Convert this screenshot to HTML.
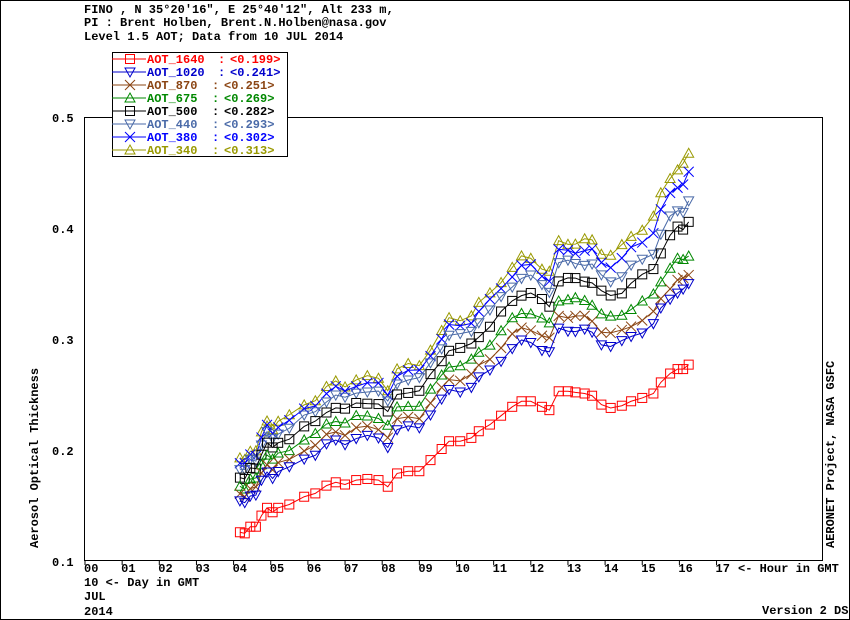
<!DOCTYPE html>
<html><head><meta charset="utf-8"><style>
body{margin:0;background:#fff}
svg{display:block}
text{font-family:"Liberation Mono",monospace;font-weight:bold;font-size:12px}
</style></head><body>
<svg id="s" width="850" height="620" xmlns="http://www.w3.org/2000/svg">
<rect x="0.5" y="0.5" width="849" height="619" fill="#fff" stroke="#000"/>
<text x="84" y="13">FINO , N 35°20'16", E 25°40'12", Alt 233 m,</text>
<text x="84" y="26">PI : Brent Holben, Brent.N.Holben@nasa.gov</text>
<text x="84" y="40">Level 1.5 AOT; Data from 10 JUL 2014</text>
<rect x="84.5" y="117.5" width="738" height="443" fill="none" stroke="#000"/>
<text x="52" y="122">0.5</text>
<text x="52" y="233">0.4</text>
<text x="52" y="344">0.3</text>
<text x="52" y="455">0.2</text>
<text x="52" y="566">0.1</text>
<text x="84" y="586">10  &lt;- Day in GMT</text>
<text x="84" y="600">JUL</text>
<text x="84" y="615">2014</text>
<text x="738" y="572">&lt;- Hour in GMT</text>
<text x="762" y="614">Version 2 DS</text>
<text transform="translate(38,548) rotate(-90)">Aerosol Optical Thickness</text>
<text transform="translate(834,548) rotate(-90)">AERONET Project, NASA GSFC</text>
<g id="ticks"></g>
<g id="data"></g>
<g id="leg"></g>
</svg>
<script>
var NS="http://www.w3.org/2000/svg",s=document.getElementById('s');
function X(h){return 85+37.15*h}function Y(v){return 560-(v-0.1)*1110}
function el(p,t,a){var e=document.createElementNS(NS,t);for(var k in a)e.setAttribute(k,a[k]);p.appendChild(e);return e}
var tk=document.getElementById('ticks');
for(var h=0;h<=17;h++){var x=X(h);el(tk,'line',{x1:x,y1:560,x2:x,y2:565,stroke:'#000'});
var t=el(tk,'text',{x:x-1,y:572});t.textContent=(h<10?'0':'')+h;}
var red=[[4.17,.125],[4.3,.124],[4.45,.13],[4.6,.13],[4.75,.14],[4.9,.147],[5.05,.143],[5.2,.147],[5.5,.15],[5.9,.157],[6.2,.16],[6.5,.167],[6.75,.17],[7,.168],[7.3,.172],[7.6,.173],[7.9,.172],[8.15,.166],[8.4,.178],[8.7,.18],[9,.18],[9.3,.19],[9.6,.2],[9.8,.207],[10.1,.207],[10.4,.21],[10.6,.216],[10.9,.222],[11.2,.23],[11.5,.238],[11.75,.243],[12,.243],[12.3,.238],[12.5,.235],[12.75,.252],[13,.252],[13.2,.251],[13.45,.25],[13.65,.248],[13.9,.24],[14.15,.237],[14.45,.239],[14.7,.243],[15,.246],[15.3,.25],[15.5,.26],[15.75,.268],[15.95,.272],[16.1,.272],[16.25,.276]];
var S=[['AOT_1640','#ff0000','sq',1,0,'0.199'],['AOT_1020','#0000cc','dn',1.22,0.0125,'0.241'],['AOT_870','#8b4513','x',1.27,0.008,'0.251'],['AOT_675','#008800','up',1.33,0.01,'0.269'],['AOT_500','#000000','sq',1.4,0.022,'0.282'],['AOT_440','#4a6aa8','dn',1.46,0.022,'0.293'],['AOT_380','#0000ff','x',1.5,0.037,'0.302'],['AOT_340','#999900','up',1.53,0.047,'0.313']];
function mk(g,type,x,y,c){var a={fill:'none',stroke:c};
if(type=='sq')el(g,'rect',Object.assign({x:x-4.5,y:y-4.5,width:9,height:9},a));
else if(type=='dn')el(g,'path',Object.assign({d:'M'+(x-5)+','+(y-4)+'H'+(x+5)+'L'+x+','+(y+5)+'Z'},a));
else if(type=='up')el(g,'path',Object.assign({d:'M'+(x-5)+','+(y+4)+'H'+(x+5)+'L'+x+','+(y-5)+'Z'},a));
else el(g,'path',Object.assign({d:'M'+(x-5)+','+(y-5)+'L'+(x+5)+','+(y+5)+'M'+(x+5)+','+(y-5)+'L'+(x-5)+','+(y+5)},a));}
var dg=document.getElementById('data');
for(var i=S.length-1;i>=0;i--){var sr=S[i],pts=[];
red.forEach(function(p,j){var f=sr[3]+sr[4]*Math.max(0,p[0]-13);var w=(i>0)?(1+0.006*Math.sin(j*1.7+i)):1;pts.push([X(p[0]),Y(p[1]*f*w)]);});
el(dg,'polyline',{points:pts.map(function(p){return p.join(',')}).join(' '),fill:'none',stroke:sr[1]});
pts.forEach(function(p){mk(dg,sr[2],p[0],p[1],sr[1])});}
var lg=document.getElementById('leg');
el(lg,'rect',{x:112.5,y:52.5,width:175,height:104,fill:'#fff',stroke:'#000'});
S.forEach(function(sr,i){var y=59+i*13;el(lg,'line',{x1:112,y1:y,x2:146,y2:y,stroke:sr[1]});mk(lg,sr[2],130,y,sr[1]);
var t=el(lg,'text',{x:147,y:y+4,fill:sr[1]});t.textContent=sr[0];
var off=sr[0].length==8?218:212;
t=el(lg,'text',{x:off,y:y+4,fill:sr[1]});t.textContent=':';
t=el(lg,'text',{x:off+12,y:y+4,fill:sr[1]});t.textContent='<'+sr[5]+'>';});
</script>
</body></html>
